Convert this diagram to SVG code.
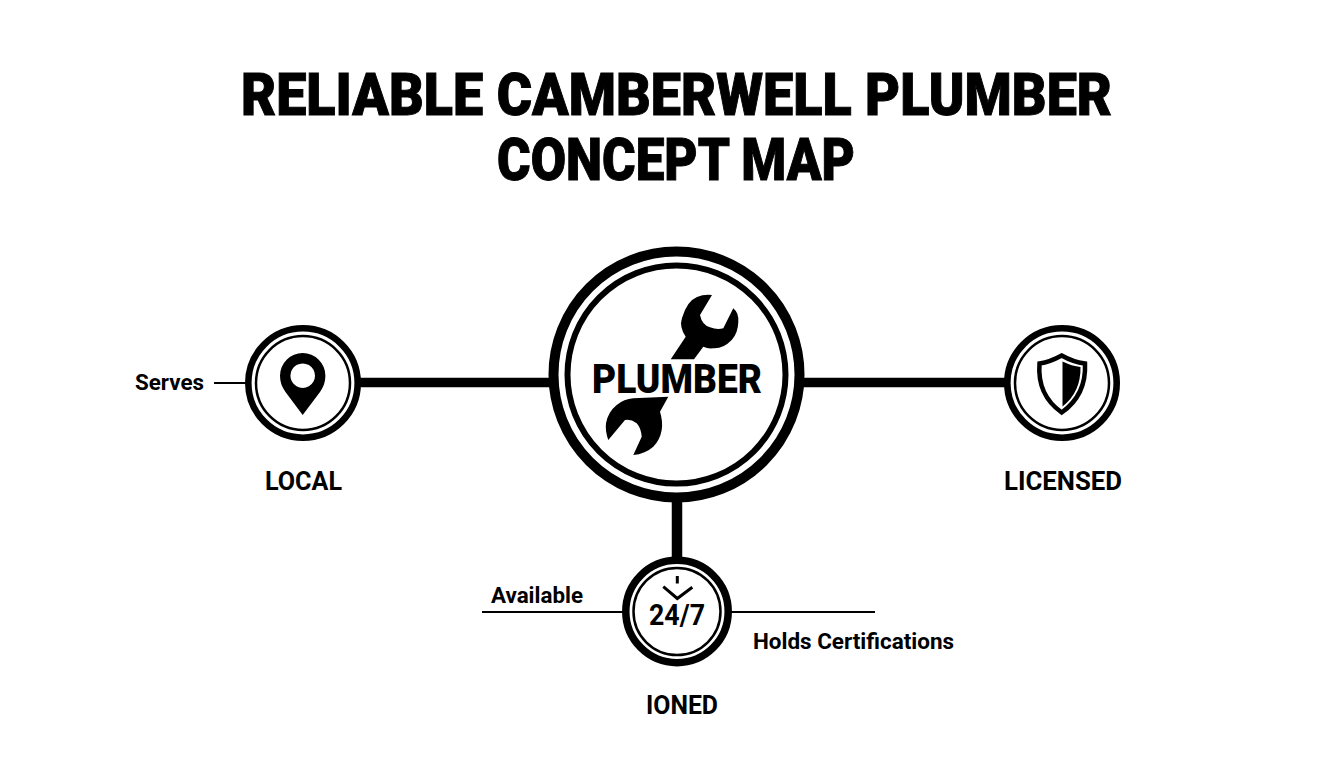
<svg xmlns="http://www.w3.org/2000/svg" width="1344" height="768" viewBox="0 0 1344 768">
<style>
text{font-family:Roboto,"Liberation Sans",sans-serif;font-weight:700;fill:#000;text-anchor:middle}
.title{font-size:60px;font-weight:900;stroke:#000;stroke-width:1px}
.label{font-size:26px}
.small{font-size:22px}
.ring{fill:#fff;stroke:#000}
.icon{fill:#000}
.thick{stroke:#000;fill:none}
.thin{stroke:#000;stroke-width:2;fill:none}
</style>
<rect width="1344" height="768" fill="#fff"/>
<g id="title">
<text class="title" x="676.5" y="114.5" textLength="871" lengthAdjust="spacingAndGlyphs">RELIABLE CAMBERWELL PLUMBER</text>
<text class="title" x="676" y="180" textLength="358" lengthAdjust="spacingAndGlyphs">CONCEPT MAP</text>
</g>
<g id="connectors">
<line class="thick" stroke-width="9.5" x1="358" y1="382.5" x2="552" y2="382.5"/>
<line class="thick" stroke-width="9.5" x1="802" y1="382.5" x2="1006" y2="382.5"/>
<line class="thick" stroke-width="10.5" x1="677" y1="500" x2="677" y2="560"/>
<line class="thin" x1="214" y1="383" x2="246" y2="383"/>
<line class="thin" x1="482" y1="612" x2="623" y2="612"/>
<line class="thin" x1="731" y1="612" x2="875" y2="612"/>
</g>
<g id="plumber">
<circle class="ring" cx="676.5" cy="374.5" r="123" stroke-width="10"/>
<circle class="ring" cx="676.5" cy="374.5" r="109" stroke-width="6"/>
<path class="icon" d="M670.7 359.3L685.7 336.7Q679 327 682 318Q687 301 697 297Q704 294 712 295L700 315Q702 325 710 327.3Q717 330 723.3 328.3L733.3 308.3Q739 313 738.3 322Q738 333 731.7 340Q723 349 713.3 348.3Q708 349 703.3 346.7L694 359.3Z"/>
<path class="icon" d="M668.3 396.7L660 411.7Q663 421 661.7 430Q660 440 653.3 446.7Q645 454 633.3 455L641.7 436.7Q641 428 636.7 423.3Q631 419 625 420L608.3 440Q605 431 606 423.3Q608 412 616.7 405Q624 399 633.3 398.3Z"/>
<text x="677" y="392.7" textLength="170" lengthAdjust="spacingAndGlyphs" style="font-size:41px;font-weight:900;paint-order:stroke;stroke:#fff;stroke-width:3px">PLUMBER</text>
</g>
<g id="local">
<circle class="ring" cx="303" cy="383" r="54.7" stroke-width="6.6"/>
<circle class="ring" cx="303" cy="383" r="47" stroke-width="2.5"/>
<path class="icon" fill-rule="evenodd" d="M302.7 415L285.5 392C282 387 280 382 280 375.7A22.7 22.7 0 0 1 325.4 375.7C325.4 382 323.4 387 320 392ZM302.7 363.4A12.3 12.3 0 1 0 302.71 363.4Z"/>
<text class="small" x="169.5" y="390" textLength="69" lengthAdjust="spacingAndGlyphs">Serves</text>
<text class="label" x="303.5" y="490" textLength="77" lengthAdjust="spacingAndGlyphs">LOCAL</text>
</g>
<g id="licensed">
<circle class="ring" cx="1062" cy="383" r="54.7" stroke-width="6.6"/>
<circle class="ring" cx="1062" cy="383" r="47" stroke-width="2.5"/>
<path d="M1061.7 355.5Q1050 362 1039.5 363.5Q1037 395 1061.7 412.5Q1086.5 395 1085 363.5Q1073 362 1061.7 355.5Z" fill="#fff" stroke="#000" stroke-width="4.5"/>
<path class="icon" d="M1062.5 361.5Q1072 366 1080.5 367Q1081 392 1062.5 406.5Z"/>
<text class="label" x="1063" y="490" textLength="118" lengthAdjust="spacingAndGlyphs">LICENSED</text>
</g>
<g id="availability">
<circle class="ring" cx="677" cy="611.5" r="51.2" stroke-width="7.5"/>
<circle class="ring" cx="677" cy="611.5" r="43.5" stroke-width="2.5"/>
<path d="M677.3 576V583.5M663.3 586.7L677.3 598.5L692.3 587.3" fill="none" stroke="#000" stroke-width="3"/>
<text x="677" y="625" textLength="56" lengthAdjust="spacingAndGlyphs" style="font-size:29px">24/7</text>
<text class="small" x="537" y="603" textLength="92" lengthAdjust="spacingAndGlyphs">Available</text>
<text class="small" x="853.5" y="649" textLength="201" lengthAdjust="spacingAndGlyphs">Holds Certifications</text>
<text class="label" x="682" y="714" textLength="72" lengthAdjust="spacingAndGlyphs">IONED</text>
</g>
</svg>
